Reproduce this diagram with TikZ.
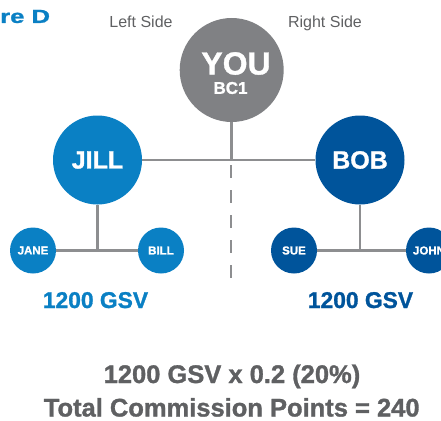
\documentclass[tikz,border=0pt]{standalone}
\usepackage{fontspec}
\setmainfont{Liberation Sans}[BoldFont={Liberation Sans Bold},BoldFeatures={FakeBold=1.2}]
\newfontfamily\widefont{Liberation Sans Bold}[FakeStretch=1.35,FakeBold=1.2]
\usetikzlibrary{positioning}
\definecolor{you-gray}{HTML}{808184}
\definecolor{left-blue}{HTML}{0A80C4}
\definecolor{right-blue}{HTML}{00549B}
\colorlet{line-gray}{you-gray!90!white}
\definecolor{text-gray}{HTML}{5F6062}
\tikzset{
  member/.style={circle,inner sep=0pt,text=white,font=\bfseries},
  bigmember/.style={member,minimum size=89pt,font=\bfseries\fontsize{25}{25}\selectfont},
  smallmember/.style={member,minimum size=46pt,font=\bfseries\fontsize{11.5}{11.5}\selectfont},
  link/.style={draw=line-gray,line width=2.7pt},
  sidelabel/.style={anchor=base,inner sep=0pt,text=text-gray,font=\fontsize{16}{16}\selectfont},
  total/.style={anchor=base,inner sep=0pt,font=\bfseries\fontsize{22.8}{22.8}\selectfont},
  sum/.style={anchor=base,inner sep=0pt,text=text-gray,font=\bfseries\fontsize{25.5}{25.5}\selectfont},
}

\begin{document}
\begin{tikzpicture}[x=1pt,y=-1pt]
\useasboundingbox (0,0) rectangle (441,420);
\clip (0,0) rectangle (441,420);
% heading
\node[anchor=west,inner sep=0pt,text=left-blue,font=\widefont\fontsize{19}{19}\selectfont] (figlabel) at (0,16.5) {re D};
\node[sidelabel] (leftside) at (141,28) {Left Side};
\node[sidelabel] (rightside) at (325,28) {Right Side};
% you
\node[member,fill=you-gray,minimum size=104pt] (you) at (231.7,70) {};
\node[inner sep=0pt,text=white,font=\bfseries\fontsize{32}{32}\selectfont] (youname) at (236,63.5) {YOU};
\node[inner sep=0pt,text=white,font=\bfseries\fontsize{17}{17}\selectfont] (youcode) at (230.5,88) {BC1};
% first level
\node[bigmember,fill=left-blue] (jill) at (97.5,160) {JILL};
\node[bigmember,fill=right-blue] (bob) at (360,160) {BOB};
% second level
\node[smallmember,fill=left-blue] (jane) at (33,250.5) {JANE};
\node[smallmember,fill=left-blue] (bill) at (161,250.5) {BILL};
\node[smallmember,fill=right-blue] (sue) at (294,250.5) {SUE};
\node[smallmember,fill=right-blue] (john) at (429,250.5) {JOHN};
% lines
\coordinate (hub) at (you |- jill);
\coordinate (dashtop) at (231,165);
\coordinate (dashend) at (231,278);
\draw[link] (jill) -- (bob);
\draw[link] (you) -- (hub);
\draw[link,dash pattern=on 13pt off 12pt] (dashtop) -- (dashend);
\draw[link] (jill) -- (jill |- jane);
\draw[link] (jane) -- (bill);
\draw[link] (bob) -- (bob |- sue);
\draw[link] (sue) -- (john);
% volumes
\node[total,text=left-blue] (leftgsv) at (95.5,308) {1200 GSV};
\node[total,text=right-blue] (rightgsv) at (360.5,308) {1200 GSV};
\node[sum] (rate) at (232,383) {1200 GSV x 0.2 (20\%)};
\node[sum] (points) at (231.7,416.5) {Total Commission Points = 240};
\end{tikzpicture}
\end{document}
